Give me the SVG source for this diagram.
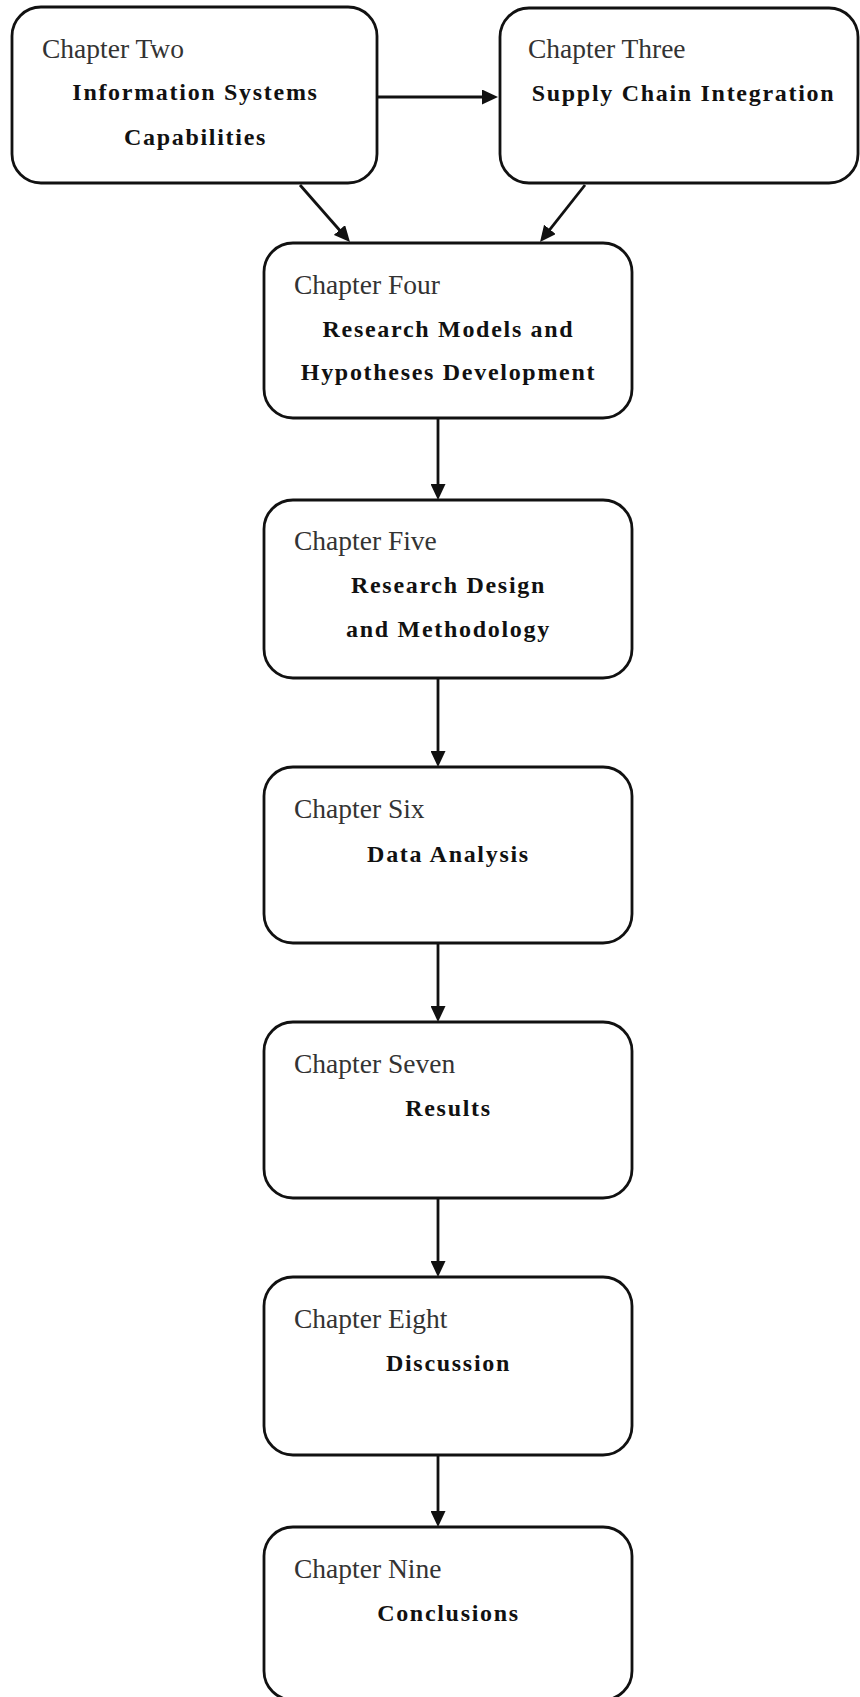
<svg xmlns="http://www.w3.org/2000/svg" width="860" height="1697" viewBox="0 0 860 1697">
  <style>
    .box { fill: #ffffff; stroke: #111111; stroke-width: 2.8; }
    .ch { font-family: "Liberation Serif", "Times New Roman", serif; font-size: 27.5px; fill: #333333; }
    .tt { font-family: "Liberation Serif", "Times New Roman", serif; font-size: 24px; font-weight: bold; fill: #111111; letter-spacing: 1.7px; text-anchor: middle; }
    .edge { stroke: #111111; stroke-width: 2.8; fill: none; marker-end: url(#arrow); }
  </style>
  <defs>
    <marker id="arrow" markerUnits="userSpaceOnUse" markerWidth="16" markerHeight="15" viewBox="0 0 16 15" refX="8" refY="7.5" orient="auto">
      <path d="M0,0 L16,7.5 L0,15 z" fill="#111111"/>
    </marker>
  </defs>
  <rect x="0" y="0" width="860" height="1697" fill="#ffffff"/>

  <g id="connectors">
    <line class="edge" x1="377" y1="97" x2="490" y2="97"/>
    <line class="edge" x1="300" y1="185" x2="344.7" y2="236"/>
    <line class="edge" x1="585" y1="185" x2="545" y2="235.7"/>
    <line class="edge" x1="438" y1="418" x2="438" y2="492"/>
    <line class="edge" x1="438" y1="678" x2="438" y2="759"/>
    <line class="edge" x1="438" y1="943" x2="438" y2="1014"/>
    <line class="edge" x1="438" y1="1198" x2="438" y2="1269"/>
    <line class="edge" x1="438" y1="1455" x2="438" y2="1519"/>
  </g>

  <g id="chapter-two">
    <rect class="box" x="12" y="7" width="365" height="176" rx="29" ry="29"/>
    <text class="ch" x="42" y="58">Chapter Two</text>
    <text class="tt" x="195.5" y="100">Information Systems</text>
    <text class="tt" x="195.5" y="145">Capabilities</text>
  </g>

  <g id="chapter-three">
    <rect class="box" x="500" y="8" width="358" height="175" rx="29" ry="29"/>
    <text class="ch" x="528" y="58">Chapter Three</text>
    <text class="tt" x="683.5" y="101">Supply Chain Integration</text>
  </g>

  <g id="chapter-four">
    <rect class="box" x="264" y="243" width="368" height="175" rx="29" ry="29"/>
    <text class="ch" x="294" y="294">Chapter Four</text>
    <text class="tt" x="448.5" y="337">Research Models and</text>
    <text class="tt" x="448.5" y="380">Hypotheses Development</text>
  </g>

  <g id="chapter-five">
    <rect class="box" x="264" y="500" width="368" height="178" rx="29" ry="29"/>
    <text class="ch" x="294" y="550">Chapter Five</text>
    <text class="tt" x="448.5" y="593">Research Design</text>
    <text class="tt" x="448.5" y="637">and Methodology</text>
  </g>

  <g id="chapter-six">
    <rect class="box" x="264" y="767" width="368" height="176" rx="29" ry="29"/>
    <text class="ch" x="294" y="818">Chapter Six</text>
    <text class="tt" x="448.5" y="862">Data Analysis</text>
  </g>

  <g id="chapter-seven">
    <rect class="box" x="264" y="1022" width="368" height="176" rx="29" ry="29"/>
    <text class="ch" x="294" y="1073">Chapter Seven</text>
    <text class="tt" x="448.5" y="1116">Results</text>
  </g>

  <g id="chapter-eight">
    <rect class="box" x="264" y="1277" width="368" height="178" rx="29" ry="29"/>
    <text class="ch" x="294" y="1328">Chapter Eight</text>
    <text class="tt" x="448.5" y="1371">Discussion</text>
  </g>

  <g id="chapter-nine">
    <rect class="box" x="264" y="1527" width="368" height="173" rx="29" ry="29"/>
    <text class="ch" x="294" y="1578">Chapter Nine</text>
    <text class="tt" x="448.5" y="1621">Conclusions</text>
  </g>
</svg>
